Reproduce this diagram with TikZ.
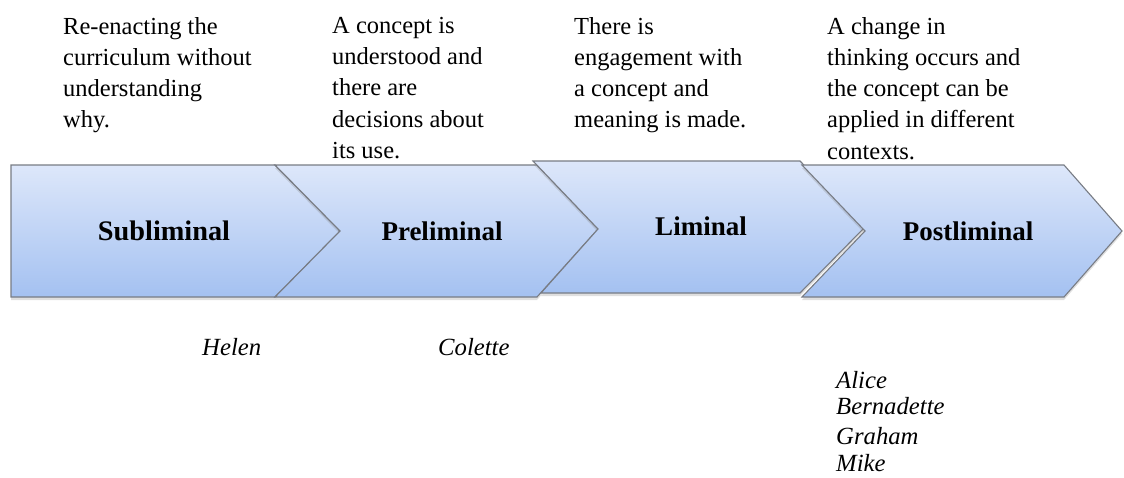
\documentclass[tikz,border=0pt]{standalone}
\usepackage{fontspec}
\setmainfont{Liberation Serif}
\usepackage{tikz}
\usetikzlibrary{calc,shadows}

\definecolor{stagetop}{RGB}{221,231,250}
\definecolor{stagebottom}{RGB}{164,193,241}
\definecolor{stageline}{RGB}{120,124,132}

\tikzset{
    stage/.style={draw=stageline, line width=1.1pt, line join=miter,
        top color=stagetop, bottom color=stagebottom,
        drop shadow={shadow xshift=0pt, shadow yshift=-3pt, opacity=0.25}},
    stagename/.style={font=\fontsize{27}{30}\selectfont\bfseries, inner sep=0pt},
    stagetext/.style={font=\fontsize{24.5}{31.2}\selectfont, align=left, anchor=north west, inner sep=0pt},
    person/.style={font=\fontsize{24.7}{29.5}\selectfont\itshape, anchor=base west, inner sep=0pt}
}

\begin{document}
\begin{tikzpicture}[x=1pt,y=-1pt]
        \useasboundingbox (0,0) rectangle (1124,477);

        % Centre points of the stages
        \coordinate (S_CENTER) at (164,231);
        \coordinate (P_CENTER) at (442,231);
        \coordinate (L_CENTER) at (701,226);
        \coordinate (PL_CENTER) at (968,231);

        % Draw the subliminal stage
        \draw[stage] (11,165) -- (275,165) -- (340,231) -- (275,297) -- (11,297) -- cycle;

        % Draw the preliminal stage
        \draw[stage] (275,165) -- (537,165) -- (598,229) -- (537,297) -- (275,297) -- (340,231) -- cycle;

        % Draw the liminal stage (sits a little higher)
        \draw[stage] (533,161) -- (800,161) -- (865,227) -- (800,293) -- (541,293) -- (598,229) -- cycle;

        % Draw the postliminal stage
        \draw[stage] (802,165) -- (1064,165) -- (1122,231) -- (1064,297) -- (802,297) -- (865,231) -- cycle;

        % Stage names
        \node[stagename, font=\fontsize{28.3}{30}\selectfont\bfseries] (sub) at (S_CENTER) {Subliminal};
        \node[stagename] (pre) at (P_CENTER) {Preliminal};
        \node[stagename] (lim) at (L_CENTER) {Liminal};
        \node[stagename] (post) at (PL_CENTER) {Postliminal};

        % Descriptions above the stages
        \node[stagetext] (subtext) at (63,17) {Re-enacting the\\curriculum without\\understanding\\why.};
        \node[stagetext] (pretext) at (332,17) {A concept is\\understood and\\there are\\decisions about\\its use.};
        \node[stagetext] (limtext) at (574,17) {There is\\engagement with\\a concept and\\meaning is made.};
        \node[stagetext] (posttext) at (827,17) {A change in\\thinking occurs and\\the concept can be\\applied in different\\contexts.};

        % People below the stages
        \node[person] (helen) at (202,355) {Helen};
        \node[person] (colette) at (438,355) {Colette};
        \node[person] (alice) at (836,388) {Alice};
        \node[person] (bernadette) at (836,414) {Bernadette};
        \node[person] (graham) at (836,444) {Graham};
        \node[person] (mike) at (836,471) {Mike};

    \end{tikzpicture}
\end{document}
